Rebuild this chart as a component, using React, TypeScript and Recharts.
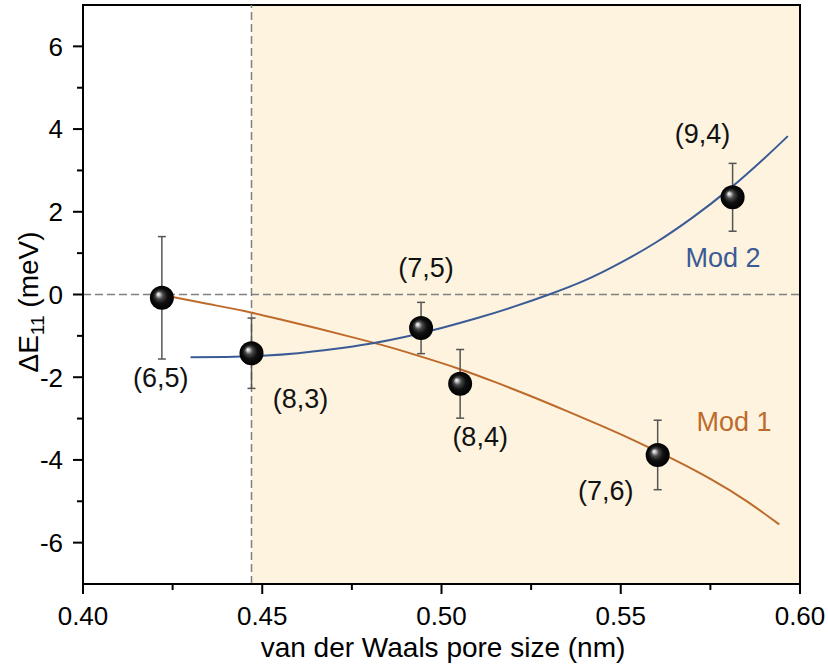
import React from 'react'
import {
  ComposedChart,
  XAxis,
  YAxis,
  Line,
  Scatter,
  ErrorBar,
  ReferenceArea,
  ReferenceLine,
  ReferenceDot,
  Label,
} from 'recharts'

// measured (n,m) tubes
const tubeLabels = ['(6,5)', '(8,3)', '(7,5)', '(8,4)', '(7,6)', '(9,4)']
const poreSize = [0.422, 0.447, 0.4943, 0.5052, 0.5603, 0.5812]
const deltaE = [-0.08, -1.42, -0.81, -2.16, -3.88, 2.35]
const deltaErr = [1.48, 0.85, 0.62, 0.83, 0.84, 0.82]

// model curves
const mod1X = [0.425, 0.435, 0.445, 0.455, 0.465, 0.475, 0.485, 0.495, 0.505, 0.515, 0.525, 0.535, 0.545, 0.555, 0.565, 0.575, 0.585, 0.5942]
const mod1Y = [-0.06, -0.23, -0.4, -0.6, -0.81, -1.03, -1.26, -1.52, -1.8, -2.12, -2.46, -2.82, -3.19, -3.58, -4.0, -4.46, -4.99, -5.56]

const mod2X = [0.43, 0.44, 0.45, 0.46, 0.47, 0.48, 0.49, 0.5, 0.51, 0.52, 0.53, 0.54, 0.55, 0.56, 0.57, 0.58, 0.59, 0.5966]
const mod2Y = [-1.52, -1.51, -1.48, -1.42, -1.32, -1.19, -1.02, -0.81, -0.57, -0.3, 0, 0.34, 0.77, 1.27, 1.86, 2.53, 3.29, 3.83]

const shadeStart = 0.447
const xTicks = [0.4, 0.425, 0.45, 0.475, 0.5, 0.525, 0.55, 0.575, 0.6]
const xMajor = [0.4, 0.45, 0.5, 0.55, 0.6]
const yTicks = [-6, -5, -4, -3, -2, -1, 0, 1, 2, 3, 4, 5, 6]

const FONT = '"Liberation Sans", Arial, sans-serif'
const ORANGE = '#BD6A2B'
const BLUE = '#3B5B96'

const points = poreSize.map((x, i) => ({ x, y: deltaE[i], err: deltaErr[i], name: tubeLabels[i] }))
const mod1 = mod1X.map((x, i) => ({ x, y: mod1Y[i] }))
const mod2 = mod2X.map((x, i) => ({ x, y: mod2Y[i] }))

// where each (n,m) label sits relative to its ball
const labelOffsets: Record<string, [number, number]> = {
  '(6,5)': [-1, 79],
  '(8,3)': [49, 45],
  '(7,5)': [5, -61],
  '(8,4)': [20, 52],
  '(7,6)': [-52, 35],
  '(9,4)': [-30, -64],
}

const isMajorX = (v: number) => xMajor.some((m) => Math.abs(m - v) < 1e-6)

function XTick(props: any) {
  const { x, y, payload } = props
  const major = isMajorX(payload.value)
  return (
    <g>
      <line x1={x} x2={x} y1={y} y2={y + (major ? 10 : 6)} stroke="#000" strokeWidth={2} />
      {major && (
        <text x={x} y={y + 41} textAnchor="middle" fontSize={26} fontFamily={FONT} fill="#000">
          {payload.value.toFixed(2)}
        </text>
      )}
    </g>
  )
}

function YTick(props: any) {
  const { x, y, payload } = props
  const major = payload.value % 2 === 0
  return (
    <g>
      <line x1={x - (major ? 10 : 6)} x2={x} y1={y} y2={y} stroke="#000" strokeWidth={2} />
      {major && (
        <text x={x - 20} y={y} dy="0.36em" textAnchor="end" fontSize={26} fontFamily={FONT} fill="#000">
          {payload.value}
        </text>
      )}
    </g>
  )
}

function Ball(props: any) {
  const { cx, cy, payload } = props
  const off = labelOffsets[payload.name] || [0, 0]
  return (
    <g>
      <circle cx={cx} cy={cy} r={12} fill="url(#ballGrad)" />
      <text
        x={cx + off[0]}
        y={cy + off[1]}
        dy="0.36em"
        textAnchor="middle"
        fontSize={27}
        fontFamily={FONT}
        fill="#111"
      >
        {payload.name}
      </text>
    </g>
  )
}

export default function App() {
  return (
    <div style={{ position: 'absolute', left: 0, top: 0 }}>
      <svg width={0} height={0} style={{ position: 'absolute' }}>
        <defs>
          <radialGradient id="ballGrad" cx="50%" cy="50%" r="50%" fx="34%" fy="34%">
            <stop offset="0%" stopColor="#ffffff" />
            <stop offset="12%" stopColor="#c8c8c8" />
            <stop offset="32%" stopColor="#4a4a4a" />
            <stop offset="60%" stopColor="#101010" />
            <stop offset="100%" stopColor="#000000" />
          </radialGradient>
        </defs>
      </svg>
      <ComposedChart width={828} height={665} margin={{ top: 5, right: 28, bottom: 6, left: 23 }}>
        <XAxis
          type="number"
          dataKey="x"
          domain={[0.4, 0.6]}
          ticks={xTicks}
          interval={0}
          allowDataOverflow
          tickSize={0}
          tickMargin={0}
          tickLine={false}
          axisLine={{ stroke: '#000', strokeWidth: 2 }}
          tick={<XTick />}
          height={75}
        >
          <Label
            content={() => (
              <text x={443} y={657} textAnchor="middle" fontSize={28} fontFamily={FONT} fill="#000">
                van der Waals pore size (nm)
              </text>
            )}
          />
        </XAxis>
        <YAxis
          type="number"
          domain={[-7, 7]}
          ticks={yTicks}
          interval={0}
          allowDataOverflow
          tickSize={0}
          tickMargin={0}
          tickLine={false}
          axisLine={{ stroke: '#000', strokeWidth: 2 }}
          tick={<YTick />}
          width={60}
        >
          <Label
            content={() => (
              <text
                x={38}
                y={302}
                transform="rotate(-90 38 302)"
                textAnchor="middle"
                fontSize={28}
                fontFamily={FONT}
                fill="#000"
              >
                ΔE<tspan fontSize={19} dy={6}>11</tspan>
                <tspan dy={-6}> (meV)</tspan>
              </text>
            )}
          />
        </YAxis>

        <ReferenceArea x1={shadeStart} x2={0.6} y1={-7} y2={7} fill="#FDF3DE" fillOpacity={1} stroke="none" />
        <ReferenceLine x={shadeStart} stroke="#808080" strokeWidth={1.5} strokeDasharray="8 4" />
        <ReferenceLine y={0} stroke="#808080" strokeWidth={1.5} strokeDasharray="8 4" />
        <ReferenceArea x1={0.4} x2={0.6} y1={-7} y2={7} fill="none" stroke="#000" strokeWidth={2} />

        <Line data={mod1} dataKey="y" type="natural" stroke={ORANGE} strokeWidth={2} dot={false} activeDot={false} isAnimationActive={false} />
        <Line data={mod2} dataKey="y" type="natural" stroke={BLUE} strokeWidth={2} dot={false} activeDot={false} isAnimationActive={false} />

        <Scatter data={points} dataKey="y" shape={<Ball />} isAnimationActive={false}>
          <ErrorBar dataKey="err" direction="y" width={4} stroke="#555" strokeWidth={1.5} />
        </Scatter>

        <ReferenceDot x={0.5785} y={0.89} r={0} fill="none" stroke="none" label={{ value: 'Mod 2', position: 'center', fill: BLUE, fontSize: 27, fontFamily: FONT }} />
        <ReferenceDot x={0.5816} y={-3.06} r={0} fill="none" stroke="none" label={{ value: 'Mod 1', position: 'center', fill: ORANGE, fontSize: 27, fontFamily: FONT }} />
      </ComposedChart>
    </div>
  )
}
